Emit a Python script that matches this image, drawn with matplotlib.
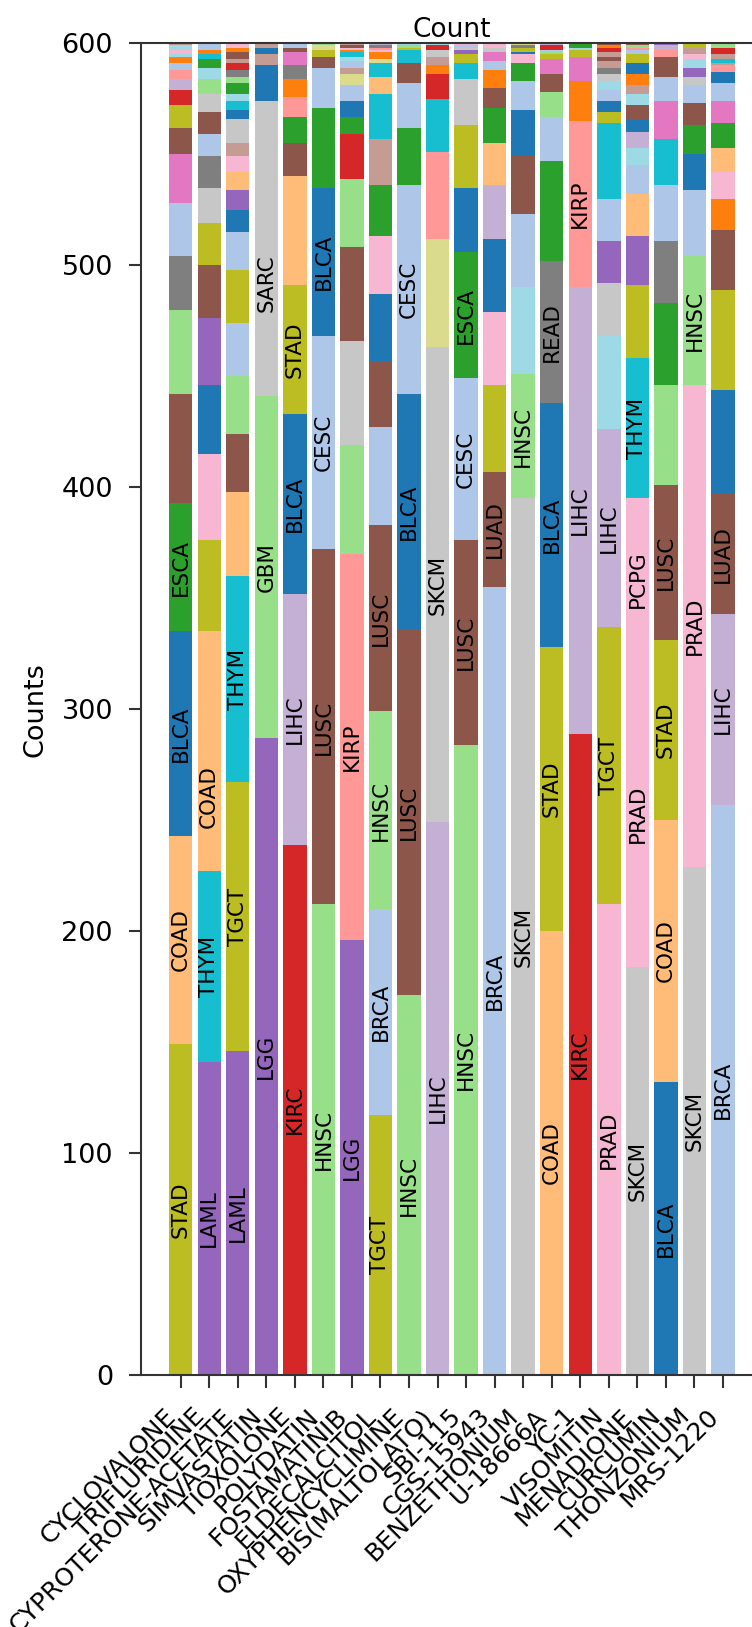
import matplotlib
matplotlib.use("Agg")
import matplotlib.pyplot as plt
import numpy as np

# TCGA cancer types in alphabetical order; colours are sampled from tab20 along this list
TCGA_TYPES = ["ACC", "BLCA", "BRCA", "CESC", "CHOL", "COAD", "DLBC", "ESCA", "GBM",
              "HNSC", "KICH", "KIRC", "KIRP", "LAML", "LGG", "LIHC", "LUAD", "LUSC",
              "MESO", "OV", "PAAD", "PCPG", "PRAD", "READ", "SARC", "SKCM", "STAD",
              "TGCT", "THCA", "THYM", "UCEC", "UCS", "UVM"]

drugs = ["CYCLOVALONE", "TRIFLURIDINE", "CYPROTERONE-ACETATE", "SIMVASTATIN",
         "TIOXOLONE", "POLYDATIN", "FOSTAMATINIB", "ELDECALCITOL",
         "OXYPHENCYCLIMINE", "BIS(MALTOLATO)", "SBI-115", "CGS-15943",
         "BENZETHONIUM", "U-18666A", "YC-1", "VISOMITIN", "MENADIONE",
         "CURCUMIN", "THONZONIUM", "MRS-1220"]

# per-drug counts of cell lines by cancer type, listed from the bottom of the stack up
CYCLOVALONE = [("STAD", 149), ("COAD", 94), ("BLCA", 92), ("ESCA", 58), ("LUSC", 49),
               ("HNSC", 38), ("READ", 24), ("BRCA", 24), ("PAAD", 22), ("LUAD", 12),
               ("TGCT", 10), ("KIRC", 7), ("LIHC", 5), ("KIRP", 4), ("CESC", 3),
               ("CHOL", 3), ("UVM", 1), ("PRAD", 2), ("UCS", 2), ("MESO", 1)]
TRIFLURIDINE = [("LAML", 141), ("THYM", 86), ("COAD", 67), ("DLBC", 41), ("STAD", 41),
                ("PRAD", 39), ("BLCA", 31), ("LGG", 30), ("LUAD", 24), ("TGCT", 19),
                ("SARC", 16), ("READ", 14), ("BRCA", 10), ("LUSC", 10), ("SKCM", 8),
                ("HNSC", 7), ("UVM", 5), ("ESCA", 4), ("UCEC", 2), ("CHOL", 2), ("CESC", 3)]
CYPROTERONE_ACETATE = [("LAML", 146), ("TGCT", 121), ("THYM", 93), ("COAD", 38), ("LUSC", 26),
                       ("HNSC", 26), ("BRCA", 24), ("STAD", 24), ("CESC", 17), ("BLCA", 10),
                       ("LGG", 9), ("DLBC", 8), ("PRAD", 7), ("MESO", 6), ("SARC", 11),
                       ("ACC", 4), ("UCEC", 4), ("UVM", 3), ("ESCA", 5), ("GBM", 3),
                       ("READ", 3), ("KIRC", 3), ("OV", 2), ("LUAD", 3), ("CHOL", 2), ("PCPG", 2)]
SIMVASTATIN = [("LGG", 287), ("GBM", 154), ("SARC", 102), ("SKCM", 31), ("BLCA", 16),
               ("MESO", 5), ("ACC", 3), ("OV", 2)]
TIOXOLONE = [("KIRC", 239), ("LIHC", 113), ("BLCA", 81), ("STAD", 58), ("COAD", 49),
             ("LUSC", 15), ("ESCA", 12), ("KIRP", 9), ("CHOL", 8), ("READ", 6),
             ("PAAD", 6), ("LUAD", 2), ("BRCA", 2)]
POLYDATIN = [("HNSC", 212), ("LUSC", 160), ("CESC", 96), ("BLCA", 67), ("ESCA", 36),
             ("BRCA", 18), ("LUAD", 5), ("STAD", 3), ("THCA", 2), ("GBM", 1)]
FOSTAMATINIB = [("LGG", 196), ("KIRP", 174), ("GBM", 49), ("SARC", 47), ("LUSC", 42),
                ("HNSC", 31), ("KIRC", 20), ("ESCA", 8), ("BLCA", 7), ("BRCA", 7),
                ("THCA", 5), ("MESO", 3), ("CESC", 3), ("UVM", 2), ("UCEC", 2),
                ("CHOL", 1), ("PRAD", 1), ("LUAD", 1), ("OV", 1)]
ELDECALCITOL = [("TGCT", 117), ("BRCA", 93), ("HNSC", 89), ("LUSC", 84), ("CESC", 44),
                ("LUAD", 30), ("BLCA", 30), ("PRAD", 26), ("ESCA", 23), ("MESO", 21),
                ("THYM", 20), ("COAD", 8), ("UCEC", 6), ("THCA", 2), ("CHOL", 3),
                ("PCPG", 1), ("KIRP", 1), ("READ", 1), ("LIHC", 1)]
OXYPHENCYCLIMINE = [("HNSC", 171), ("LUSC", 165), ("BLCA", 106), ("CESC", 94), ("ESCA", 26),
                    ("BRCA", 20), ("LUAD", 9), ("THYM", 6), ("STAD", 1), ("GBM", 1), ("UVM", 1)]
BIS_MALTOLATO = [("LIHC", 249), ("SKCM", 214), ("THCA", 49), ("KIRP", 39), ("THYM", 24),
                 ("KIRC", 11), ("CHOL", 4), ("MESO", 4), ("SARC", 3), ("KICH", 2), ("UVM", 1)]
SBI_115 = [("HNSC", 284), ("LUSC", 92), ("CESC", 73), ("ESCA", 57), ("BLCA", 29),
           ("STAD", 28), ("SKCM", 21), ("THYM", 7), ("TGCT", 4), ("LGG", 2),
           ("SARC", 1), ("BRCA", 1), ("PRAD", 1)]
CGS_15943 = [("BRCA", 355), ("LUAD", 52), ("STAD", 39), ("PRAD", 33), ("BLCA", 33),
             ("LIHC", 24), ("COAD", 19), ("ESCA", 16), ("LUSC", 9), ("CHOL", 8),
             ("CESC", 4), ("PAAD", 4), ("SARC", 2), ("PCPG", 2)]
BENZETHONIUM = [("SKCM", 395), ("HNSC", 56), ("UVM", 39), ("BRCA", 33), ("LUSC", 26),
                ("BLCA", 21), ("CESC", 13), ("ESCA", 8), ("PRAD", 4), ("ACC", 1),
                ("STAD", 2), ("READ", 1), ("THCA", 1)]
U_18666A = [("COAD", 200), ("STAD", 128), ("BLCA", 110), ("READ", 64), ("ESCA", 45),
            ("BRCA", 20), ("HNSC", 11), ("LUSC", 8), ("PAAD", 7), ("TGCT", 2),
            ("GBM", 1), ("CESC", 1), ("KIRC", 2), ("LIHC", 1)]
YC_1 = [("KIRC", 289), ("LIHC", 201), ("KIRP", 75), ("CHOL", 18), ("PAAD", 11),
        ("STAD", 3), ("UVM", 1), ("ESCA", 2)]
VISOMITIN = [("PRAD", 212), ("TGCT", 125), ("LIHC", 89), ("UVM", 42), ("SKCM", 24),
             ("LGG", 19), ("BRCA", 19), ("THYM", 34), ("STAD", 5), ("BLCA", 5),
             ("CESC", 5), ("UCS", 4), ("SARC", 3), ("READ", 3), ("MESO", 3),
             ("LUAD", 2), ("OV", 2), ("KIRC", 2), ("CHOL", 1), ("LUSC", 1)]
MENADIONE = [("SKCM", 184), ("PRAD", 138), ("PCPG", 73), ("THYM", 63), ("STAD", 33),
             ("LGG", 22), ("COAD", 19), ("BRCA", 13), ("UVM", 8), ("LIHC", 7),
             ("BLCA", 6), ("LUSC", 6), ("UCS", 5), ("MESO", 4), ("CHOL", 5),
             ("ACC", 5), ("TGCT", 4), ("CESC", 2), ("KIRP", 1), ("HNSC", 1), ("LUAD", 1)]
CURCUMIN = [("BLCA", 132), ("COAD", 118), ("STAD", 81), ("LUSC", 70), ("HNSC", 45),
            ("ESCA", 37), ("READ", 28), ("BRCA", 25), ("THYM", 21), ("PAAD", 17),
            ("CESC", 11), ("LUAD", 9), ("KIRP", 3), ("LIHC", 2), ("LGG", 1)]
THONZONIUM = [("SKCM", 229), ("PRAD", 217), ("HNSC", 58), ("BRCA", 30), ("BLCA", 16),
              ("ESCA", 13), ("LUSC", 10), ("CESC", 8), ("SARC", 4), ("LGG", 4),
              ("UVM", 4), ("PCPG", 2), ("MESO", 3), ("STAD", 2)]
MRS_1220 = [("BRCA", 257), ("LIHC", 86), ("LUAD", 54), ("BLCA", 47), ("STAD", 45),
            ("LUSC", 27), ("CHOL", 14), ("PRAD", 12), ("COAD", 11), ("ESCA", 11),
            ("PAAD", 10), ("CESC", 8), ("ACC", 5), ("KIRP", 3), ("MESO", 1),
            ("THYM", 2), ("OV", 2), ("KIRC", 3), ("HNSC", 2)]

stacks = [CYCLOVALONE, TRIFLURIDINE, CYPROTERONE_ACETATE, SIMVASTATIN, TIOXOLONE,
          POLYDATIN, FOSTAMATINIB, ELDECALCITOL, OXYPHENCYCLIMINE, BIS_MALTOLATO,
          SBI_115, CGS_15943, BENZETHONIUM, U_18666A, YC_1, VISOMITIN, MENADIONE,
          CURCUMIN, THONZONIUM, MRS_1220]

LABEL_MIN = 50          # segments at least this large get their cancer type written in
y_ticks = [0, 100, 200, 300, 400, 500, 600]

cmap = plt.get_cmap("tab20")
type_color = {t: cmap(i / (len(TCGA_TYPES) - 1)) for i, t in enumerate(TCGA_TYPES)}

fig = plt.figure(figsize=(7.52, 16.27), dpi=100)
ax = fig.add_axes([0.1871, 0.1549, 0.8275, 0.8185])

x = np.arange(len(drugs))
for xi, stack in zip(x, stacks):
    bottom = 0
    for ctype, count in stack:
        ax.bar(xi, count, bottom=bottom, width=0.82, color=type_color[ctype],
               linewidth=0)
        if count >= LABEL_MIN:
            ax.text(xi, bottom + count / 2, ctype, rotation=90, ha="center",
                    va="center", fontsize=15.5, color="black")
        bottom += count

ax.set_xlim(-1.4, 20.4)
ax.set_ylim(0, 600)
ax.set_yticks(y_ticks)
ax.set_xticks(x)
ax.set_xticklabels(drugs, rotation=45, ha="right", fontsize=18)
ax.tick_params(axis="y", labelsize=19.5, length=9, width=1.5, pad=11, color="#333333")
ax.tick_params(axis="x", length=9, width=1.5, pad=12, color="#333333")
for side in ["left", "top", "bottom", "right"]:
    ax.spines[side].set_color("#333333")
    ax.spines[side].set_linewidth(1.5)

ax.set_title("Count", fontsize=19, pad=4)
ax.set_ylabel("Counts", fontsize=19.5, labelpad=9)

fig.savefig("out.png", dpi=100, facecolor="white")
